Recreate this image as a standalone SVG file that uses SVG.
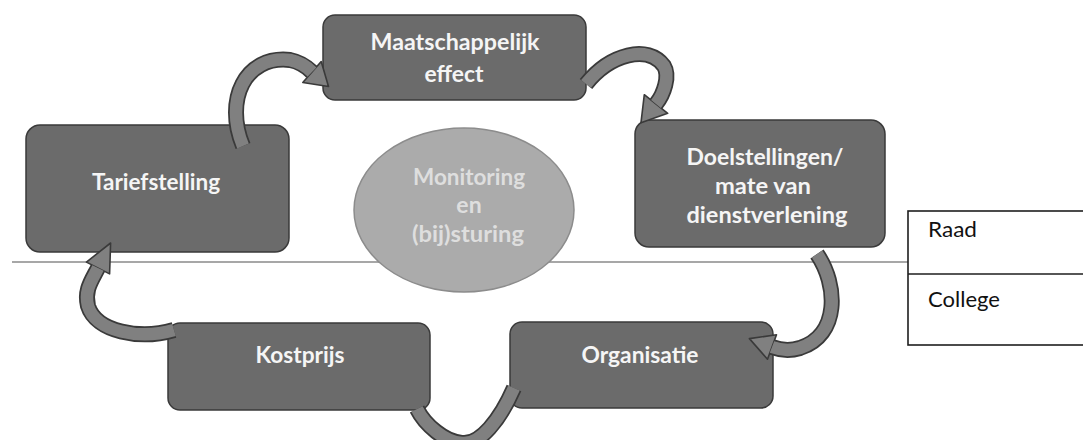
<svg xmlns="http://www.w3.org/2000/svg" width="1083" height="440" viewBox="0 0 1083 440">
  <style>
    .box { fill: #6b6b6b; stroke: #3a3a3a; stroke-width: 1.5; }
    .lbl { font-family: Lato, "Open Sans", "Liberation Sans", sans-serif; font-weight: bold; font-size: 23px; fill: #f5f5f5; text-anchor: middle; }
    .hub { fill: #ababab; stroke: #8c8c8c; stroke-width: 1.5; }
    .hub-lbl { font-family: Lato, "Open Sans", "Liberation Sans", sans-serif; font-weight: bold; font-size: 23px; fill: #dedede; text-anchor: middle; }
    .divider { stroke: #8a8a8a; stroke-width: 1.6; fill: none; }
    .band-edge { fill: none; stroke: #3a3a3a; stroke-width: 16; }
    .band { fill: none; stroke: #808080; stroke-width: 12.5; }
    .head { fill: #808080; stroke: #3a3a3a; stroke-width: 1.6; stroke-linejoin: round; }
    .tbl { fill: #ffffff; stroke: #1e1e1e; stroke-width: 1.6; }
    .tbl-lbl { font-family: Lato, "Open Sans", "Liberation Sans", sans-serif; font-size: 22px; fill: #111111; }
  </style>

  <!-- boundary between council and executive level -->
  <line class="divider" x1="12" y1="262" x2="908" y2="262"/>

  <!-- central hub -->
  <g id="monitoring">
    <ellipse class="hub" cx="464" cy="210" rx="110" ry="82"/>
    <text class="hub-lbl" x="469" y="185" textLength="112" lengthAdjust="spacingAndGlyphs">Monitoring</text>
    <text class="hub-lbl" x="469" y="213">en</text>
    <text class="hub-lbl" x="468" y="242" textLength="112" lengthAdjust="spacingAndGlyphs">(bij)sturing</text>
  </g>

  <g id="maatschappelijk-effect">
    <rect class="box" x="323" y="15" width="263" height="85" rx="12"/>
    <text class="lbl" x="455" y="50" textLength="169" lengthAdjust="spacingAndGlyphs">Maatschappelijk</text>
    <text class="lbl" x="454" y="82" textLength="59" lengthAdjust="spacingAndGlyphs">effect</text>
  </g>

  <g id="tariefstelling">
    <rect class="box" x="26" y="125" width="263" height="127" rx="14"/>
    <text class="lbl" x="156" y="190" textLength="128" lengthAdjust="spacingAndGlyphs">Tariefstelling</text>
  </g>

  <g id="doelstellingen">
    <rect class="box" x="635" y="120" width="250" height="127" rx="14"/>
    <text class="lbl" x="765" y="165" textLength="157" lengthAdjust="spacingAndGlyphs">Doelstellingen/</text>
    <text class="lbl" x="763" y="194" textLength="96" lengthAdjust="spacingAndGlyphs">mate van</text>
    <text class="lbl" x="767" y="223" textLength="161" lengthAdjust="spacingAndGlyphs">dienstverlening</text>
  </g>

  <g id="kostprijs">
    <rect class="box" x="168" y="323" width="262" height="87" rx="12"/>
    <text class="lbl" x="300" y="363" textLength="89" lengthAdjust="spacingAndGlyphs">Kostprijs</text>
  </g>

  <g id="organisatie">
    <rect class="box" x="510" y="322" width="263" height="86" rx="12"/>
    <text class="lbl" x="640" y="363" textLength="117" lengthAdjust="spacingAndGlyphs">Organisatie</text>
  </g>

  <!-- curved cycle arrows -->
  <g id="connectors">
    <!-- Tariefstelling to Maatschappelijk effect -->
    <path class="band-edge" d="M243 146 C224 100 245 55 290 60 C300 62 306 66 312 72"/>
    <polygon class="head" points="321.2,61.5 328.5,86.5 302.8,82.5"/>
    <path class="band" d="M243 146 C224 100 245 55 290 60 C300 62 306 66 312 72"/>

    <!-- Maatschappelijk effect to Doelstellingen -->
    <path class="band-edge" d="M586 84 C610 54 648 44 664 66 C670 76 664 94 656 104"/>
    <polygon class="head" points="667.7,113.3 641,122.7 644.3,94.7"/>
    <path class="band" d="M586 84 C610 54 648 44 664 66 C670 76 664 94 656 104"/>

    <!-- Doelstellingen to Organisatie -->
    <path class="band-edge" d="M817 254 C838 285 840 335 800 348 C790 351 780 350 772 347"/>
    <polygon class="head" points="767.5,359.2 749.4,338.6 776.5,334.8"/>
    <path class="band" d="M817 254 C838 285 840 335 800 348 C790 351 780 350 772 347"/>

    <!-- Organisatie to Kostprijs -->
    <path class="band-edge" d="M514 388 C500 420 480 445 462 443 C445 442 425 425 417 409"/>
    <path class="band" d="M514 388 C500 420 480 445 462 443 C445 442 425 425 417 409"/>

    <!-- Kostprijs to Tariefstelling -->
    <path class="band-edge" d="M174 330 C140 340 96 332 88 306 C84 290 92 280 98 268"/>
    <polygon class="head" points="109.6,273.9 110.6,243 86.4,262.1"/>
    <path class="band" d="M174 330 C140 340 96 332 88 306 C84 290 92 280 98 268"/>
  </g>

  <!-- responsibility legend -->
  <g id="legend">
    <rect class="tbl" x="908" y="211" width="190" height="134"/>
    <line class="tbl" x1="908" y1="274" x2="1090" y2="274"/>
    <text class="tbl-lbl" x="928" y="237" textLength="49" lengthAdjust="spacingAndGlyphs">Raad</text>
    <text class="tbl-lbl" x="928" y="307" textLength="72" lengthAdjust="spacingAndGlyphs">College</text>
  </g>
</svg>
